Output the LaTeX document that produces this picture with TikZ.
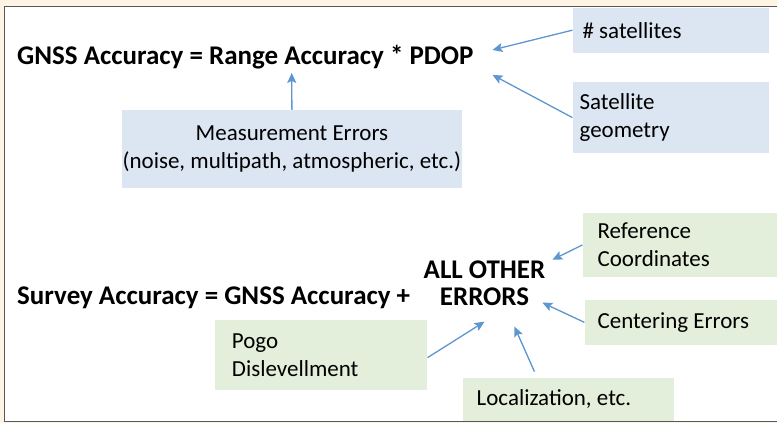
\documentclass[tikz,border=0pt]{standalone}
\usepackage{fontspec}
\setmainfont{Carlito}
\usetikzlibrary{arrows.meta}
\definecolor{cream}{HTML}{FDF4E4}
\definecolor{framegray}{HTML}{58585A}
\definecolor{boxblue}{HTML}{DCE5F2}
\definecolor{boxgreen}{HTML}{E3EFDB}
\definecolor{arrowblue}{HTML}{5E97CF}
\begin{document}
\begin{tikzpicture}[x=1pt,y=-1pt,
  % keep the font's own interword space inside aligned nodes
  every node/.style={execute at begin node={\spaceskip=0pt\xspaceskip=0pt}},
  formula/.style={font=\fontsize{27}{27}\selectfont\bfseries, inner sep=0pt},
  infobox/.style={font=\fontsize{23}{28}\selectfont, inner ysep=0pt,
    align=left, anchor=north west},
  bluebox/.style={infobox, fill=boxblue},
  greenbox/.style={infobox, fill=boxgreen},
  conn/.style={draw=arrowblue, line width=1.3pt,
    -{Stealth[length=10pt, width=9pt, inset=2pt]}}]

% page and frame
\fill[cream] (0,0) rectangle (778,423);
\fill[white] (4.5,6.5) rectangle (778,422);
\draw[framegray, line width=1.6pt] (778,6.5) -- (4.5,6.5) -- (4.5,422) -- (778,422);
\useasboundingbox (0,0) rectangle (778,423);

% GNSS accuracy
\node[formula, anchor=base west] (gnss) at (17,65)
  {GNSS Accuracy = Range Accuracy * PDOP};
\node[bluebox, text width=177pt, minimum height=45pt, inner xsep=10pt] (sat)
  at (573,7.5) {\# satellites};
\node[bluebox, text width=183pt, minimum height=71pt, inner xsep=7pt] (geom)
  at (573,82) {Satellite\\geometry};
\node[bluebox, align=center, text width=340pt, minimum height=78pt, inner xsep=0pt] (meas)
  at (122,110) {\mbox{Measurement Errors}\\\mbox{(noise, multipath, atmospheric, etc.)}};

\coordinate (tsat) at (493,50);
\coordinate (tgeom) at (493,75);
\coordinate (tmeas) at (292,73);
\draw[conn] (sat.west) -- (tsat);
\draw[conn] (geom.west) -- (tgeom);
\draw[conn] (meas.north) -- (tmeas);

% survey accuracy
\node[formula, anchor=base west] (survey) at (17,305)
  {Survey Accuracy = GNSS Accuracy +};
\node[formula, align=center, font=\fontsize{27}{27}\selectfont\bfseries] (other)
  at (485,284) {\mbox{ALL OTHER}\\ERRORS};
\node[greenbox, text width=165pt, minimum height=64pt, inner xsep=15pt] (ref)
  at (583,213) {Reference\\Coordinates};
\node[greenbox, text width=167pt, minimum height=45pt, inner xsep=13pt] (cent)
  at (585,300) {\mbox{Centering Errors}};
\node[greenbox, text width=178pt, minimum height=70pt, inner xsep=17pt] (pogo)
  at (215,320) {Pogo\\Dislevellment};
\node[greenbox, text width=183pt, minimum height=43pt, inner xsep=14pt] (loc)
  at (463,378) {\mbox{Localization, etc.}};

\coordinate (tref) at (553,260);
\coordinate (tcent) at (543,303);
\coordinate (tpogo) at (485,322);
\coordinate (tloc) at (515,327);
\coordinate (pogotail) at (428,358);
\coordinate (loctail) at (535,372);
\draw[conn] (ref.west) -- (tref);
\draw[conn] (cent.west) -- (tcent);
\draw[conn] (pogotail) -- (tpogo);
\draw[conn] (loctail) -- (tloc);
\end{tikzpicture}
\end{document}
